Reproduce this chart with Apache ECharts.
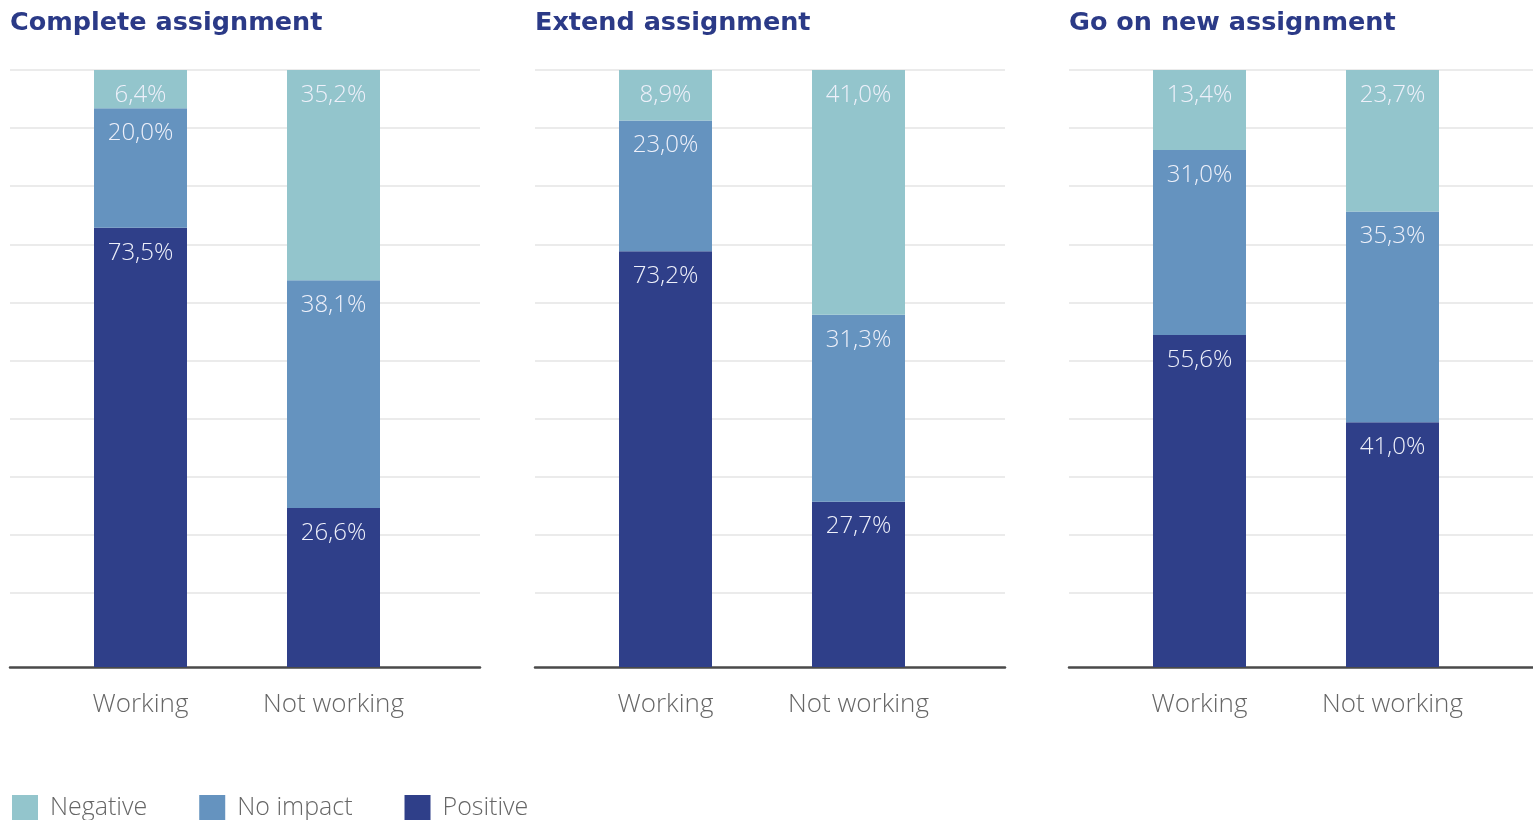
<!DOCTYPE html>
<html><head><meta charset="utf-8">
<script src="https://cdn.jsdelivr.net/npm/echarts@6/dist/echarts.min.js"></script>
<style>html,body{margin:0;padding:0;background:#fff;overflow:hidden}#c{width:1533px;height:820px}</style>
</head><body><div id="c"></div>
<script>
// ---- data ----
const categories = ['Working', 'Not working'];
const panelTitles = ['Complete assignment', 'Extend assignment', 'Go on new assignment'];
const seriesNames = ['Negative', 'No impact', 'Positive'];
const negative = [[6.4, 35.2], [8.9, 41.0], [13.4, 23.7]];
const noImpact = [[20.0, 38.1], [23.0, 31.3], [31.0, 35.3]];
const positive = [[73.5, 26.6], [73.2, 27.7], [55.6, 41.0]];

// ---- layout / style ----
const colors = {'Negative': '#93c5cc', 'No impact': '#6593bf', 'Positive': '#2f3f89'};
const panelLefts = [10, 535, 1069];
const panelWidth = 470;
const plotTop = 70, plotHeight = 597;
const labelFont = 'Open Sans';

const chart = echarts.init(document.getElementById('c'));
const grids = [], xAxes = [], yAxes = [], series = [], titles = [];

function fmt(v) { return v.toFixed(1).replace('.', ',') + '%'; }

panelLefts.forEach((L, p) => {
  titles.push({
    text: panelTitles[p], left: L - 5, top: 5,
    textStyle: {fontFamily: 'DejaVu Sans', fontWeight: 'bold', fontSize: 25.5, color: '#2b3a87'}
  });
  // decorative grid for gridlines + baseline
  const gi = grids.length;
  grids.push({left: L, top: plotTop, width: panelWidth, height: 523, containLabel: false});
  xAxes.push({gridIndex: gi, type: 'value', min: 0, max: 1, position: 'bottom', offset: 74,
    axisLine: {show: true, onZero: false, lineStyle: {color: '#4a4a4a', width: 2.5}},
    axisTick: {show: false}, axisLabel: {show: false}, splitLine: {show: false}});
  yAxes.push({gridIndex: gi, type: 'value', min: 0, max: 9, interval: 1,
    axisLine: {show: false}, axisTick: {show: false}, axisLabel: {show: false},
    splitLine: {show: true, lineStyle: {color: '#e4e4e4', width: 1.5}}});
  // main grid
  const mi = grids.length;
  grids.push({left: L + 34, top: plotTop, width: 386, height: plotHeight, containLabel: false});
  xAxes.push({gridIndex: mi, type: 'category', data: categories,
    axisLine: {show: false}, axisTick: {show: false},
    axisLabel: {margin: 25, fontFamily: labelFont, fontWeight: 300, fontSize: 26, color: '#666666'}});
  yAxes.push({gridIndex: mi, type: 'value', min: 0, max: 100, show: false, splitLine: {show: false}});

  const totals = categories.map((c, i) => negative[p][i] + noImpact[p][i] + positive[p][i]);
  const raw = {'Positive': positive[p], 'No impact': noImpact[p], 'Negative': negative[p]};
  ['Positive', 'No impact', 'Negative'].forEach(name => {
    series.push({
      name: name, type: 'bar', stack: 'p' + p, xAxisIndex: mi, yAxisIndex: mi,
      barWidth: 93,
      itemStyle: {color: colors[name]},
      data: raw[name].map((v, i) => ({value: v / totals[i] * 100, raw: v})),
      label: {show: true, position: 'insideTop', distance: 13,
        fontFamily: labelFont, fontWeight: 300, fontSize: 24, color: '#eef0fa',
        formatter: prm => fmt(prm.data.raw)},
      emphasis: {disabled: true}
    });
  });
});

chart.setOption({
  animation: false,
  title: titles,
  grid: grids, xAxis: xAxes, yAxis: yAxes, series: series,
  legend: {data: seriesNames, left: 12, top: 795, padding: 0, itemWidth: 26, itemHeight: 26, itemGap: 52,
    icon: 'rect',
    textStyle: {fontFamily: labelFont, fontWeight: 300, fontSize: 25, color: '#666666', padding: [0, 0, 0, 7]}}
});
</script></body></html>
